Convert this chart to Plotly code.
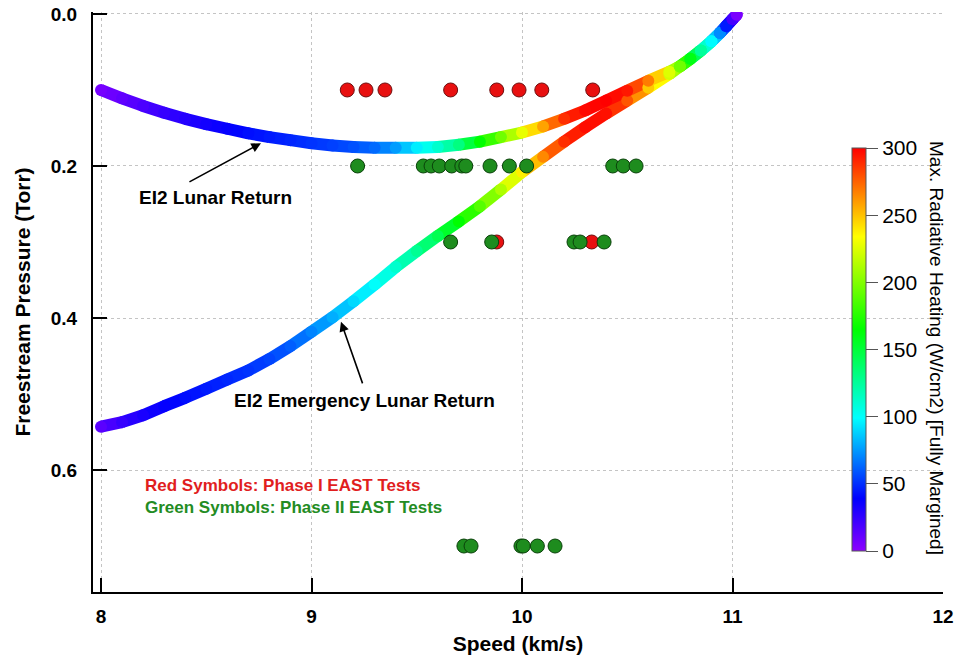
import plotly.graph_objects as go
from plotly.colors import sample_colorscale

# EI2 Lunar Return trajectory: speed (km/s), freestream pressure (Torr), max radiative heating (W/cm2)
lunar_speed = [8.0, 8.1, 8.2, 8.3, 8.4, 8.5, 8.6, 8.7, 8.8, 8.9, 9.0, 9.1, 9.2, 9.3, 9.4,
               9.5, 9.6, 9.7, 9.8, 9.9, 10.0, 10.1, 10.2, 10.3, 10.4, 10.5, 10.6, 10.7,
               10.75, 10.8, 10.85, 10.9, 10.94, 10.97, 11.0, 11.02]
lunar_pressure = [0.100, 0.111, 0.121, 0.130, 0.138, 0.145, 0.151, 0.157, 0.162, 0.166,
                  0.170, 0.173, 0.175, 0.176, 0.176, 0.176, 0.175, 0.172, 0.168, 0.162,
                  0.156, 0.148, 0.138, 0.127, 0.114, 0.101, 0.088, 0.076,
                  0.069, 0.059, 0.048, 0.036, 0.025, 0.016, 0.007, 0.001]
lunar_heating = [6, 12, 18, 24, 29, 34, 38, 42, 45, 48, 51, 54, 58, 64, 76,
                 95, 112, 132, 165, 195, 228, 258, 288, 298, 300, 294, 268, 225,
                 195, 160, 125, 98, 72, 45, 20, 5]

# EI2 Emergency Lunar Return trajectory
emerg_speed = [8.0, 8.1, 8.2, 8.3, 8.4, 8.5, 8.6, 8.7, 8.8, 8.9, 9.0, 9.1, 9.2, 9.3, 9.4,
               9.5, 9.6, 9.7, 9.8, 9.9, 10.0, 10.1, 10.2, 10.3, 10.4, 10.5, 10.6, 10.7,
               10.75, 10.8, 10.85, 10.9, 10.94, 10.97, 11.0, 11.02]
emerg_pressure = [0.543, 0.537, 0.528, 0.516, 0.505, 0.493, 0.481, 0.469, 0.454, 0.437,
                  0.418, 0.399, 0.378, 0.356, 0.333, 0.312, 0.292, 0.273, 0.253, 0.231,
                  0.208, 0.188, 0.168, 0.149, 0.131, 0.114, 0.097, 0.079,
                  0.069, 0.059, 0.048, 0.036, 0.025, 0.016, 0.007, 0.001]
emerg_heating = [14, 24, 32, 38, 42, 45, 48, 51, 55, 61, 70, 80, 90, 100, 112,
                 127, 144, 165, 188, 212, 238, 265, 288, 297, 296, 278, 248, 222,
                 195, 160, 125, 98, 72, 45, 20, 5]

# Phase I EAST test conditions
phase1_speed = [9.170, 9.259, 9.349, 9.661, 9.880, 9.986, 10.094, 10.336,
                9.880, 10.331]
phase1_pressure = [0.1, 0.1, 0.1, 0.1, 0.1, 0.1, 0.1, 0.1,
                   0.3, 0.3]

# Phase II EAST test conditions
phase2_speed = [9.219, 9.531, 9.568, 9.607, 9.666, 9.714, 9.733, 9.848, 9.940, 10.022,
                10.431, 10.481, 10.542,
                9.661, 9.856, 10.247, 10.276, 10.390,
                9.724, 9.758, 9.995, 10.006, 10.073, 10.157]
phase2_pressure = [0.2] * 13 + [0.3] * 5 + [0.7] * 6

x_ticks = [8, 9, 10, 11, 12]
y_ticks = [0.0, 0.2, 0.4, 0.6]
y_tick_text = ["0.0", "0.2", "0.4", "0.6"]
cbar_ticks = [0, 50, 100, 150, 200, 250, 300]
heat_max = 300

rainbow = [
    [0.00, "rgb(140,0,255)"],
    [0.13, "rgb(0,0,255)"],
    [0.33, "rgb(0,255,255)"],
    [0.55, "rgb(0,255,0)"],
    [0.78, "rgb(255,255,0)"],
    [0.88, "rgb(255,140,0)"],
    [1.00, "rgb(255,0,0)"],
]

FONT = "Liberation Sans, Arial, sans-serif"
BAND = 12

fig = go.Figure()


def add_trajectory(speed, pressure, heat):
    # colour each segment by the mean heating of its two end points
    for i in range(len(speed) - 1):
        h = 0.5 * (heat[i] + heat[i + 1]) / heat_max
        fig.add_trace(go.Scatter(
            x=[speed[i], speed[i + 1]], y=[pressure[i], pressure[i + 1]],
            mode="lines", line=dict(color=sample_colorscale(rainbow, [h])[0], width=BAND),
            hoverinfo="skip", showlegend=False))


add_trajectory(emerg_speed, emerg_pressure, emerg_heating)
add_trajectory(lunar_speed, lunar_pressure, lunar_heating)

# round joints coloured by the local heating value
fig.add_trace(go.Scatter(
    x=emerg_speed, y=emerg_pressure, mode="markers", showlegend=False,
    marker=dict(size=BAND, color=emerg_heating, colorscale=rainbow, cmin=0, cmax=heat_max,
                line_width=0)))
fig.add_trace(go.Scatter(
    x=lunar_speed, y=lunar_pressure, mode="markers", showlegend=False,
    marker=dict(size=BAND, color=lunar_heating, colorscale=rainbow, cmin=0, cmax=heat_max,
                line_width=0, showscale=True,
                colorbar=dict(
                    x=(852 - 93) / 850, xanchor="left", xpad=0,
                    y=(592 - 148) / 580, yanchor="top", ypad=0,
                    lenmode="pixels", len=403, thicknessmode="pixels", thickness=14,
                    outlinewidth=1, outlinecolor="#555555",
                    tickmode="array", tickvals=cbar_ticks,
                    ticks="outside", ticklen=12, tickwidth=1, tickcolor="#555555",
                    tickfont=dict(family=FONT, size=21, color="black"),
                ))))

fig.add_trace(go.Scatter(
    x=phase1_speed, y=phase1_pressure, mode="markers", showlegend=False,
    marker=dict(size=14, color="rgb(232,16,16)", line=dict(color="rgb(110,15,15)", width=1))))
fig.add_trace(go.Scatter(
    x=phase2_speed, y=phase2_pressure, mode="markers", showlegend=False,
    marker=dict(size=14, color="rgb(30,140,30)", line=dict(color="rgb(10,65,10)", width=1))))

arrow_style = dict(showarrow=True, arrowhead=2, arrowsize=1.2, arrowwidth=1.6,
                   arrowcolor="black", axref="x", ayref="y", text="")
annotations = [
    dict(x=8.76, y=0.170, ax=8.413, ay=0.222, xref="x", yref="y", **arrow_style),
    dict(x=9.14, y=0.405, ax=9.245, ay=0.488, xref="x", yref="y", **arrow_style),
    dict(x=8.546, y=0.242, xref="x", yref="y", text="EI2 Lunar Return", showarrow=False,
         font=dict(family=FONT, size=19, color="black", weight="bold")),
    dict(x=9.254, y=0.508, xref="x", yref="y", text="EI2 Emergency Lunar Return",
         showarrow=False, font=dict(family=FONT, size=19, color="black", weight="bold")),
    dict(x=8.2, y=0.620, xref="x", yref="y", xanchor="left",
         text="Red Symbols: Phase I EAST Tests", showarrow=False,
         font=dict(family=FONT, size=17, color="rgb(225,30,30)", weight="bold")),
    dict(x=8.2, y=0.649, xref="x", yref="y", xanchor="left",
         text="Green Symbols: Phase II EAST Tests", showarrow=False,
         font=dict(family=FONT, size=17, color="rgb(35,140,35)", weight="bold")),
    dict(x=(937 - 93) / 850, y=(592 - 348) / 580, xref="paper", yref="paper",
         xanchor="center", yanchor="middle",
         text="Max. Radiative Heating (W/cm2) [Fully Margined]", textangle=90,
         showarrow=False, font=dict(family=FONT, size=19, color="black")),
]

axis_common = dict(
    showline=True, linewidth=2, linecolor="black",
    ticks="inside", ticklen=14, tickwidth=2, tickcolor="black",
    showgrid=True, gridcolor="#c4c4c4", griddash="dot", gridwidth=1,
    zeroline=False, automargin=False,
    tickfont=dict(family=FONT, size=19, color="black", weight="bold"),
)

fig.update_layout(
    width=955, height=659,
    margin=dict(l=93, r=12, t=12, b=67, autoexpand=False),
    paper_bgcolor="white", plot_bgcolor="white",
    font=dict(family=FONT, color="black"),
    showlegend=False,
    annotations=annotations,
    xaxis=dict(range=[7.962, 12.0], tickmode="array", tickvals=x_ticks,
               ticklabelstandoff=6,
               title=dict(text="Speed (km/s)", standoff=11,
                          font=dict(family=FONT, size=21, color="black", weight="bold")),
               **axis_common),
    yaxis=dict(range=[0.7605, -0.0026], tickmode="array", tickvals=y_ticks,
               ticktext=y_tick_text, ticklabelstandoff=10,
               title=dict(text="Freestream Pressure (Torr)", standoff=14,
                          font=dict(family=FONT, size=21, color="black", weight="bold")),
               **axis_common),
)

fig.write_html("out.html")
